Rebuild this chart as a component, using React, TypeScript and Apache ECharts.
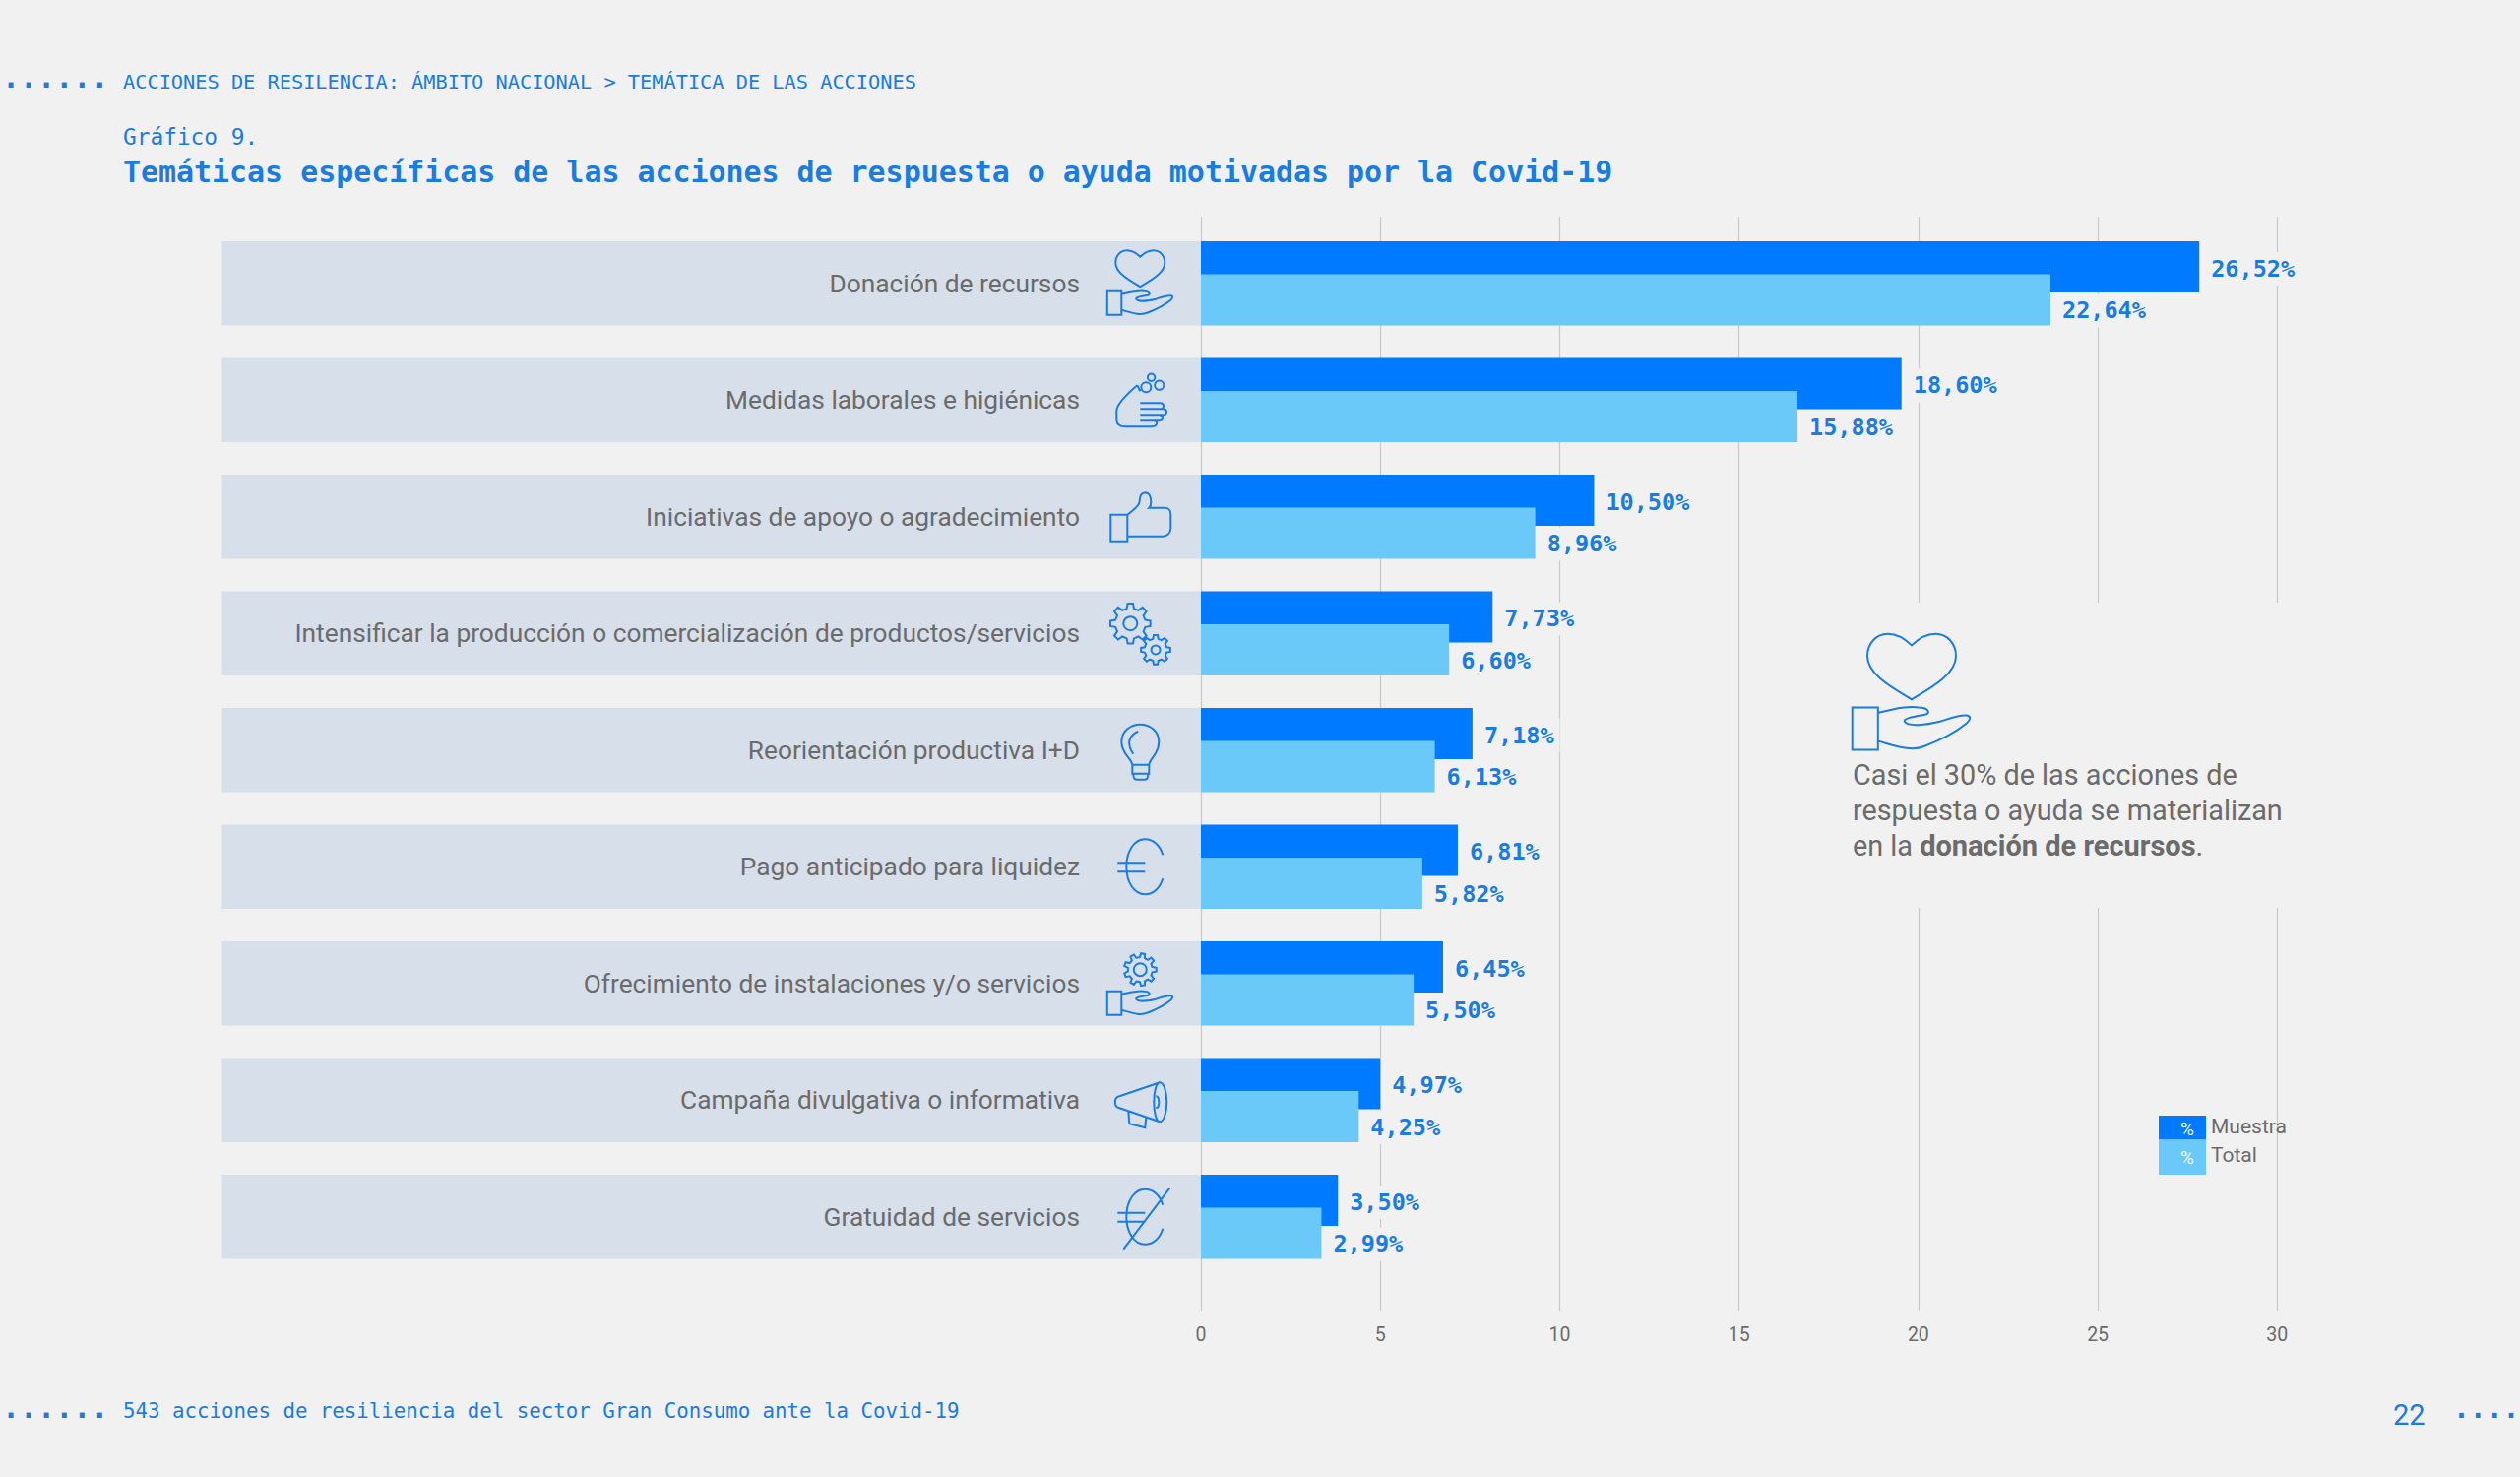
import React, { useEffect, useRef } from "react";
import * as echarts from "echarts";

const categories = [
  "Donación de recursos",
  "Medidas laborales e higiénicas",
  "Iniciativas de apoyo o agradecimiento",
  "Intensificar la producción o comercialización de productos/servicios",
  "Reorientación productiva I+D",
  "Pago anticipado para liquidez",
  "Ofrecimiento de instalaciones y/o servicios",
  "Campaña divulgativa o informativa",
  "Gratuidad de servicios",
];
// Bar lengths as drawn against the axis
const muestraBars = [27.83, 19.53, 10.96, 8.13, 7.57, 7.16, 6.75, 5.0, 3.82];
const totalBars = [23.68, 16.63, 9.32, 6.92, 6.52, 6.17, 5.93, 4.4, 3.36];
// Printed labels
const muestraLabels = ["26,52%", "18,60%", "10,50%", "7,73%", "7,18%", "6,81%", "6,45%", "4,97%", "3,50%"];
const totalLabels = ["22,64%", "15,88%", "8,96%", "6,60%", "6,13%", "5,82%", "5,50%", "4,25%", "2,99%"];
const bandValues = categories.map(() => 1);

const BG = "#f1f1f1";
const BLUE = "#1b7cdf";
const GREY = "#6b6b6b";
const MONO = "'DejaVu Sans Mono', monospace";
const SANS = "Roboto, sans-serif";

const HEART = "M0,-27 C-4,-31 -9,-33.5 -13.5,-33.5 C-20,-33.5 -25,-28 -25,-21 C-25,-10 -9,-2 0,3.5 C9,-2 25,-10 25,-21 C25,-28 20,-33.5 13.5,-33.5 C9,-33.5 4,-31 0,-27 Z";
const HAND = "M-33.5,8 H-19 V32 H-33.5 Z M-19,11 C-10,9 -2,7 4,8 C9,8 11,11 8,12 C3,13 -5,14 -4,16 C-2,19 8,18 16,16 C22,14 27,12 31,12.5 C34,13 33,15 31,17 C25,22 15,27 7,30 C0,33 -8,30 -19,27";
const EURO = "M23,-12 C20,-22 13,-28 5,-28 C-6,-28 -14,-16 -14,0 C-14,16 -6,28 5,28 C13,28 20,22 23,12 M-23,-4 H5 M-23,5 H5";

function gear(cx: number, cy: number, r: number, hole: number, teeth: number) {
  const inner = r * 0.76;
  let d = "";
  for (let i = 0; i < teeth; i++) {
    const a = (i / teeth) * Math.PI * 2;
    const s = (Math.PI * 2) / teeth;
    const pts: [number, number][] = [
      [inner, a - s * 0.3],
      [r, a - s * 0.17],
      [r, a + s * 0.17],
      [inner, a + s * 0.3],
    ];
    pts.forEach(([rr, t], j) => {
      const x = (cx + rr * Math.cos(t)).toFixed(2);
      const y = (cy + rr * Math.sin(t)).toFixed(2);
      d += (i === 0 && j === 0 ? "M" : "L") + x + "," + y + " ";
    });
  }
  d += "Z ";
  d += `M${cx + hole},${cy} A${hole},${hole} 0 1 0 ${cx - hole},${cy} A${hole},${hole} 0 1 0 ${cx + hole},${cy} Z`;
  return d;
}

const ICONS: Record<string, string> = {
  icoHeartHand: HEART + " " + HAND,
  icoSoap:
    "M-3,-15 C-10,-9 -24,3 -24,11 V20 C-24,25 -20,27 -15,27 H12 C18,27 18,21 14,21 H19 C24,21 24,15 19,15 H23 C28,15 28,9 23,9 H20 C25,9 25,3 20,3 H0 M0,9 H23 M0,15 H19 M0,21 H14 M-3,-15 L0,-9 " +
    "M11,-13 A5,5 0 1 0 1,-13 A5,5 0 1 0 11,-13 Z M24,-15 A4.6,4.6 0 1 0 14.8,-15 A4.6,4.6 0 1 0 24,-15 Z M15,-23 A3.7,3.7 0 1 0 7.6,-23 A3.7,3.7 0 1 0 15,-23 Z",
  icoThumb:
    "M-30,-2 H-13 V25 H-30 Z M-13,-2 C-8,-6 -2,-10 -1,-14 C0,-18 -1,-24 5,-24.5 C11,-24 11,-18 11,-15 C11,-13 10,-10 9,-9 H25 C29,-9 31,-6 31,-3 V12 C31,17 27,20 23,20 H-13",
  icoGears: gear(-10, -10, 20.5, 7, 8) + " " + gear(15.7, 16.7, 15, 4.5, 8),
  icoBulb:
    "M-8,15 C-9,8 -19,4 -19,-8 C-19,-19 -10,-26 0,-26 C10,-26 19,-19 19,-8 C19,4 10,8 9,15 Z M-8,15 V24 H9 V15 M-7,24 C-7,30 -5,30 -3,30 H4 C7,30 8,29 8,24 M-2,-19 C-8,-17 -12,-11 -11,-6 C-11,-2 -9,1 -7,4",
  icoEuro: EURO,
  icoGearHand: gear(0, -14, 16.5, 6.5, 9) + " " + HAND,
  icoMegaphone:
    "M20,-18 C24,-18 27,-8 27,2 C27,12 24,22 20,22 C16,22 14,12 14,2 C14,-8 16,-18 20,-18 Z M20,-18 L-21,-4 M20,22 L-21,8 M-21,-4 C-27,-3 -27,7 -21,8 M-12,11 L-11,24 L5,28 L6,17 M16,-4 C20,-4 20,8 16,8",
  icoEuroNo: EURO + " M30,-29 L-17,33",
};
const iconOrder = ["icoHeartHand", "icoSoap", "icoThumb", "icoGears", "icoBulb", "icoEuro", "icoGearHand", "icoMegaphone", "icoEuroNo"];
Object.keys(ICONS).forEach((k) => {
  echarts.graphic.registerShape(k, (echarts.graphic as any).extendPath(ICONS[k], {}));
});

const iconStyle = { fill: "none", stroke: BLUE, lineWidth: 2, strokeNoScale: true };

function txt(text: string, x: number, y: number, font: string, size: number, color: string, extra: any = {}) {
  return {
    type: "text",
    z: 30,
    x,
    y,
    style: { text, fontFamily: font, fontSize: size, fill: color, textVerticalAlign: "middle", verticalAlign: "middle", ...extra },
  };
}

export default function App() {
  const ref = useRef<HTMLDivElement>(null);
  useEffect(() => {
    document.body.style.margin = "0";
    document.body.style.background = BG;
    const chart = echarts.init(ref.current!, undefined, { renderer: "svg" });

    const graphics: any[] = [
      // break in the gridlines behind the callout
      { type: "rect", z: 1, shape: { x: 1860, y: 612, width: 500, height: 310 }, style: { fill: BG } },
      txt("......", 2, 78.5, MONO, 30, BLUE, { fontWeight: "bold" }),
      txt("ACCIONES DE RESILENCIA: ÁMBITO NACIONAL > TEMÁTICA DE LAS ACCIONES", 125, 83, MONO, 20.3, BLUE),
      txt("Gráfico 9.", 125, 139, MONO, 22.8, BLUE),
      txt("......", 2, 1429, MONO, 30, BLUE, { fontWeight: "bold" }),
      txt("543 acciones de resiliencia del sector Gran Consumo ante la Covid-19", 125, 1433, MONO, 20.75, BLUE),
      txt("22", 2431, 1437, SANS, 29, BLUE),
      txt("....", 2492, 1430, MONO, 28, BLUE, { fontWeight: "bold" }),
      // callout
      { type: "icoHeartHand", z: 30, x: 1942, y: 704, scaleX: 1.8, scaleY: 1.8, shape: {}, style: iconStyle },
      txt("Casi el 30% de las acciones de", 1882, 787, SANS, 28.8, GREY),
      txt("respuesta o ayuda se materializan", 1882, 823, SANS, 28.8, GREY),
      {
        type: "text",
        z: 30,
        x: 1882,
        y: 859,
        style: {
          text: "en la {b|donación de recursos}.",
          fontFamily: SANS,
          fontSize: 28.8,
          fill: GREY,
          verticalAlign: "middle",
          rich: { b: { fontFamily: SANS, fontSize: 29, fontWeight: "bold", fill: GREY } },
        },
      },
      // legend
      { type: "rect", z: 30, shape: { x: 2193, y: 1133, width: 48, height: 24 }, style: { fill: "#007aff" } },
      { type: "rect", z: 30, shape: { x: 2193, y: 1157, width: 48, height: 36 }, style: { fill: "#6ac9f8" } },
      txt("%", 2215, 1146, SANS, 19, "#ffffff"),
      txt("%", 2215, 1175, SANS, 19, "#ffffff"),
      txt("Muestra", 2246, 1144, SANS, 21, GREY),
      txt("Total", 2246, 1173, SANS, 21, GREY),
    ];
    iconOrder.forEach((name, i) => {
      graphics.push({
        type: name,
        z: 30,
        x: 1158.3,
        y: 287.7 + i * 118.5,
        shape: {},
        style: iconStyle,
      });
    });

    chart.setOption({
      animation: false,
      backgroundColor: BG,
      title: {
        text: "Temáticas específicas de las acciones de respuesta o ayuda motivadas por la Covid-19",
        left: 125,
        top: 159,
        padding: 0,
        textStyle: { fontFamily: MONO, fontSize: 29.93, fontWeight: "bold", color: BLUE },
      },
      grid: [
        { left: 1220, width: 1093.3, top: 220, height: 1111 },
        { left: 1220, width: 1093.3, top: 228.45, height: 1066.5 },
        { left: 225.5, width: 994.5, top: 228.45, height: 1066.5 },
      ],
      xAxis: [
        {
          gridIndex: 0,
          type: "value",
          min: 0,
          max: 30,
          interval: 5,
          axisLine: { show: false },
          axisTick: { show: false },
          splitLine: { show: true, lineStyle: { color: "#c9c9c9", width: 1.2 } },
          axisLabel: { fontFamily: SANS, fontSize: 19.5, color: GREY, margin: 14 },
        },
        { gridIndex: 1, type: "value", min: 0, max: 30, show: false },
        { gridIndex: 2, type: "value", min: 0, max: 1, show: false },
      ],
      yAxis: [
        { gridIndex: 0, type: "category", data: [""], show: false },
        {
          gridIndex: 1,
          type: "category",
          data: categories,
          inverse: true,
          z: 5,
          axisLine: { show: false },
          axisTick: { show: false },
          splitLine: { show: false },
          axisLabel: { fontFamily: SANS, fontSize: 26.3, color: GREY, margin: 123, padding: [3, 0, 0, 0] },
        },
        { gridIndex: 2, type: "category", data: categories, inverse: true, show: false },
      ],
      series: [
        {
          name: "Fondo",
          type: "bar",
          xAxisIndex: 2,
          yAxisIndex: 2,
          data: bandValues,
          barWidth: 85.4,
          z: 1,
          itemStyle: { color: "#d6dfea" },
          silent: true,
        },
        {
          name: "Muestra",
          type: "bar",
          xAxisIndex: 1,
          yAxisIndex: 1,
          data: muestraBars,
          barWidth: 52,
          barGap: "-35.5%",
          z: 2,
          itemStyle: { color: "#007aff" },
          label: {
            show: true,
            position: "right",
            distance: 6,
            offset: [0, 2],
            padding: [5, 6],
            backgroundColor: BG,
            fontFamily: MONO,
            fontWeight: "bold",
            fontSize: 23.5,
            color: BLUE,
            formatter: (p: any) => muestraLabels[p.dataIndex],
          },
        },
        {
          name: "Total",
          type: "bar",
          xAxisIndex: 1,
          yAxisIndex: 1,
          data: totalBars,
          barWidth: 52,
          z: 3,
          itemStyle: { color: "#6ac9f8" },
          label: {
            show: true,
            position: "right",
            distance: 6,
            offset: [0, 11],
            padding: [5, 6],
            backgroundColor: BG,
            fontFamily: MONO,
            fontWeight: "bold",
            fontSize: 23.5,
            color: BLUE,
            formatter: (p: any) => totalLabels[p.dataIndex],
          },
        },
      ],
      graphic: { elements: graphics },
    });
    return () => chart.dispose();
  }, []);
  return <div ref={ref} style={{ width: 2560, height: 1500 }} />;
}
